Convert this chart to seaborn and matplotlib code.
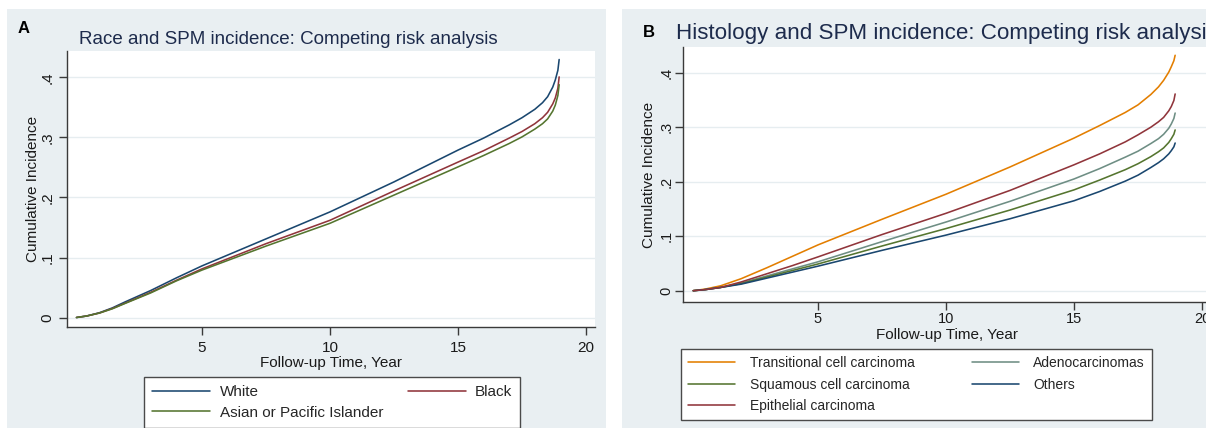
import numpy as np
import pandas as pd
import matplotlib
matplotlib.use("Agg")
import matplotlib.pyplot as plt
from matplotlib.patches import Rectangle
from matplotlib.ticker import FixedLocator, FuncFormatter
import seaborn as sns

# ---------------- data ----------------
# Panel A: Race
time_a = [0.1, 0.5, 1, 1.5, 2, 3, 4, 5, 7.5, 10, 12.5, 15, 16, 17, 17.5, 18, 18.3, 18.5, 18.7, 18.8, 18.9, 18.95]
white = [0, 0.0025, 0.008, 0.016, 0.026, 0.045, 0.066, 0.086, 0.131, 0.176, 0.226, 0.279, 0.299, 0.321, 0.333,
         0.347, 0.358, 0.368, 0.384, 0.396, 0.412, 0.430]
black = [0, 0.0025, 0.0075, 0.015, 0.024, 0.042, 0.062, 0.081, 0.123, 0.162, 0.211, 0.259, 0.278, 0.299, 0.310,
         0.323, 0.333, 0.342, 0.356, 0.366, 0.382, 0.401]
asian = [0, 0.0025, 0.0075, 0.0145, 0.0235, 0.041, 0.061, 0.079, 0.119, 0.157, 0.204, 0.251, 0.270, 0.290, 0.301,
         0.314, 0.323, 0.331, 0.344, 0.354, 0.370, 0.388]
race_labels = ["White", "Black", "Asian or Pacific Islander"]

# Panel B: Histology
time_b = [0.13, 0.6, 1.2, 2, 3, 4, 5, 7.5, 10, 12.5, 15, 16, 17, 17.5, 18, 18.3, 18.5, 18.7, 18.8, 18.9, 18.95]
transitional = [0, 0.003, 0.009, 0.022, 0.042, 0.063, 0.084, 0.131, 0.177, 0.227, 0.280, 0.303, 0.327, 0.341,
                0.360, 0.374, 0.386, 0.401, 0.411, 0.422, 0.432]
epithelial = [0, 0.002, 0.006, 0.016, 0.031, 0.046, 0.062, 0.103, 0.142, 0.184, 0.231, 0.251, 0.273, 0.286,
              0.300, 0.310, 0.318, 0.330, 0.338, 0.349, 0.361]
adeno = [0, 0.002, 0.006, 0.014, 0.027, 0.040, 0.053, 0.090, 0.126, 0.164, 0.205, 0.224, 0.245, 0.256,
         0.270, 0.279, 0.287, 0.298, 0.306, 0.316, 0.326]
squamous = [0, 0.002, 0.006, 0.013, 0.025, 0.037, 0.049, 0.082, 0.114, 0.148, 0.185, 0.203, 0.222, 0.233,
            0.246, 0.255, 0.262, 0.272, 0.279, 0.287, 0.295]
others = [0, 0.002, 0.006, 0.012, 0.023, 0.034, 0.045, 0.074, 0.102, 0.132, 0.165, 0.182, 0.201, 0.212,
          0.226, 0.235, 0.242, 0.251, 0.257, 0.264, 0.271]
hist_labels = ["Transitional cell carcinoma", "Adenocarcinomas", "Squamous cell carcinoma",
               "Others", "Epithelial carcinoma"]

x_ticks = [5, 10, 15, 20]
y_ticks = [0, 0.1, 0.2, 0.3, 0.4]

title_a = "Race and SPM incidence: Competing risk analysis"
title_b = "Histology and SPM incidence: Competing risk analysis"
xlabel = "Follow-up Time, Year"
ylabel = "Cumulative Incidence"

# ---------------- style ----------------
sns.set_theme(style="white")
plt.rcParams["font.family"] = ["Liberation Sans", "DejaVu Sans"]

NAVY = "#1A476F"
MAROON = "#90353B"
GREEN = "#55752F"
ORANGE = "#E37E00"
TEAL = "#6E8E84"
BG = "#E9EFF2"
GRID = "#E6EDF0"
AXC = "#3a3a3a"
TXT = "#1a1a1a"
TITLEC = "#1d2b4c"

W, H = 1206, 428
fig = plt.figure(figsize=(W / 100, H / 100), dpi=100, facecolor="white")


def rect(l, t, r, b):
    return [l / W, 1 - b / H, (r - l) / W, (b - t) / H]


# panel backgrounds
fig.add_artist(Rectangle((7 / W, 0), (606 - 7) / W, 1 - 9 / H, transform=fig.transFigure,
                         facecolor=BG, edgecolor="none", zorder=0))
fig.add_artist(Rectangle((622 / W, 0), (W - 622) / W, 1 - 9 / H, transform=fig.transFigure,
                         facecolor=BG, edgecolor="none", zorder=0))

df_a = pd.concat([
    pd.DataFrame({"time": time_a, "ci": white, "group": race_labels[0]}),
    pd.DataFrame({"time": time_a, "ci": black, "group": race_labels[1]}),
    pd.DataFrame({"time": time_a, "ci": asian, "group": race_labels[2]}),
])
df_b = pd.concat([
    pd.DataFrame({"time": time_b, "ci": transitional, "group": hist_labels[0]}),
    pd.DataFrame({"time": time_b, "ci": adeno, "group": hist_labels[1]}),
    pd.DataFrame({"time": time_b, "ci": squamous, "group": hist_labels[2]}),
    pd.DataFrame({"time": time_b, "ci": others, "group": hist_labels[3]}),
    pd.DataFrame({"time": time_b, "ci": epithelial, "group": hist_labels[4]}),
])
pal_a = {race_labels[0]: NAVY, race_labels[1]: MAROON, race_labels[2]: GREEN}
pal_b = {hist_labels[0]: ORANGE, hist_labels[1]: TEAL, hist_labels[2]: GREEN,
         hist_labels[3]: NAVY, hist_labels[4]: MAROON}


def style_axes(ax, ylim, tick_fs, ytick_pad, xtick_pad, ticklen):
    ax.set_facecolor("white")
    ax.set_xlim(-0.27, 20.35)
    ax.set_ylim(*ylim)
    ax.xaxis.set_major_locator(FixedLocator(x_ticks))
    ax.yaxis.set_major_locator(FixedLocator(y_ticks))
    ax.yaxis.set_major_formatter(FuncFormatter(
        lambda v, p: "0" if abs(v) < 1e-9 else ("%.1f" % v).lstrip("0")))
    for s in ["top", "right"]:
        ax.spines[s].set_visible(False)
    for s in ["left", "bottom"]:
        ax.spines[s].set_color(AXC)
        ax.spines[s].set_linewidth(1.0)
    ax.yaxis.grid(True, color=GRID, linewidth=1.0)
    ax.xaxis.grid(False)
    ax.set_axisbelow(True)
    ax.tick_params(axis="both", which="major", direction="out", length=ticklen, width=1.0,
                   color=AXC, labelsize=tick_fs, labelcolor=TXT, left=True, bottom=True)
    ax.tick_params(axis="y", pad=ytick_pad)
    ax.tick_params(axis="x", pad=xtick_pad)
    for lab in ax.get_yticklabels():
        lab.set_rotation(90)
        lab.set_va("center")


# ---------------- panel A ----------------
axA = fig.add_axes(rect(67, 51, 595, 327))
sns.lineplot(data=df_a, x="time", y="ci", hue="group", palette=pal_a, hue_order=race_labels,
             estimator=None, sort=False, linewidth=1.15, legend=False, ax=axA)
style_axes(axA, (-(327 - 317.5) / 600, (317.5 - 51) / 600), 11, 3, 4, 6)
axA.set_xlabel(xlabel, fontsize=11, color=TXT, va="center")
axA.set_ylabel(ylabel, fontsize=11, color=TXT, va="center")
axA.xaxis.set_label_coords(0.5, -(363 - 327) / 276)
axA.yaxis.set_label_coords((33 - 67) / 528, 0.5)

fig.text(79 / W, 1 - 43.5 / H, title_a, fontsize=13.5, color=TITLEC, va="baseline", ha="left")
fig.text(18 / W, 1 - 33 / H, "A", fontsize=12, fontweight="bold", color="black", va="baseline")

linesA = axA.get_lines()
hA = {race_labels[i]: linesA[i] for i in range(3)}
orderA = [race_labels[0], race_labels[2], race_labels[1]]
legA = fig.legend([hA[k] for k in orderA], orderA, loc="upper left",
                  bbox_to_anchor=(144 / W, 1 - 377 / H), ncol=2, fontsize=11,
                  frameon=True, fancybox=False, edgecolor="#4a4a4a", facecolor="white",
                  borderaxespad=0, borderpad=0.55, handlelength=3.8, handletextpad=0.6,
                  columnspacing=1.6, labelspacing=0.42)
legA.get_frame().set_linewidth(1.0)
legA.get_frame().set_alpha(1)

# ---------------- panel B ----------------
axB = fig.add_axes(rect(683, 47, 1211, 302))
sns.lineplot(data=df_b, x="time", y="ci", hue="group", palette=pal_b, hue_order=hist_labels,
             estimator=None, sort=False, linewidth=1.15, legend=False, ax=axB)
style_axes(axB, (-(302 - 290.7) / 545, (290.7 - 47) / 545), 10.5, 1, 1.5, 6)
axB.set_xlabel(xlabel, fontsize=11, color=TXT, va="center")
axB.set_ylabel(ylabel, fontsize=11, color=TXT, va="center")
axB.xaxis.set_label_coords(0.5, -(335 - 302) / 255)
axB.yaxis.set_label_coords((649 - 683) / 528, 0.5)

fig.text(676 / W, 1 - 39 / H, title_b, fontsize=16.1, color=TITLEC, va="baseline", ha="left")
fig.text(643 / W, 1 - 37 / H, "B", fontsize=12, fontweight="bold", color="black", va="baseline")

linesB = axB.get_lines()
hB = {hist_labels[i]: linesB[i] for i in range(5)}
orderB = [hist_labels[0], hist_labels[2], hist_labels[4], hist_labels[1], hist_labels[3]]
legB = fig.legend([hB[k] for k in orderB], orderB, loc="upper left",
                  bbox_to_anchor=(681 / W, 1 - 349 / H), ncol=2, fontsize=10,
                  frameon=True, fancybox=False, edgecolor="#4a4a4a", facecolor="white",
                  borderaxespad=0, borderpad=0.5, handlelength=3.4, handletextpad=1.05,
                  columnspacing=4.1, labelspacing=0.55)
legB.get_frame().set_linewidth(1.0)
legB.get_frame().set_alpha(1)

fig.savefig("out.png", dpi=100, facecolor="white")
